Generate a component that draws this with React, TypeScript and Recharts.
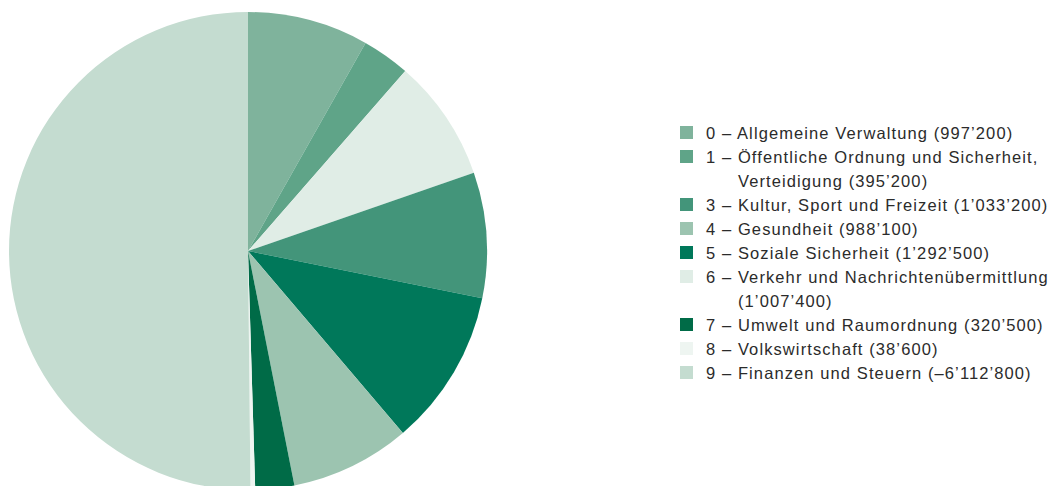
import { Cell, Legend, Pie, PieChart } from 'recharts';

// pie order (clockwise from 12 o'clock)
const sliceCodes = ['0', '1', '6', '3', '5', '4', '7', '8', '9'];
const sliceValues = [997200, 395200, 1007400, 1033200, 1292500, 988100, 320500, 38600, 6112800];

const colorByCode: Record<string, string> = {
  '0': '#7fb39c',
  '1': '#5fa488',
  '3': '#43957a',
  '4': '#9cc4b0',
  '5': '#00785a',
  '6': '#e0ede6',
  '7': '#006b47',
  '8': '#eef5f1',
  '9': '#c4dcd0',
};

// legend order and text (second line where the original wraps)
const legendCodes = ['0', '1', '3', '4', '5', '6', '7', '8', '9'];
const legendLabels = [
  ['0 – Allgemeine Verwaltung (997’200)'],
  ['1 – Öffentliche Ordnung und Sicherheit,', 'Verteidigung (395’200)'],
  ['3 – Kultur, Sport und Freizeit (1’033’200)'],
  ['4 – Gesundheit (988’100)'],
  ['5 – Soziale Sicherheit (1’292’500)'],
  ['6 – Verkehr und Nachrichtenübermittlung', '(1’007’400)'],
  ['7 – Umwelt und Raumordnung (320’500)'],
  ['8 – Volkswirtschaft (38’600)'],
  ['9 – Finanzen und Steuern (–6’112’800)'],
];

const data = sliceCodes.map((code, i) => ({ code, value: sliceValues[i] }));

function LegendContent() {
  return (
    <div
      style={{
        fontFamily: '"Liberation Sans", Arial, sans-serif',
        fontSize: 16.5,
        letterSpacing: 1.1,
        color: '#2b2b2b',
        lineHeight: '24px',
      }}
    >
      {legendCodes.map((code, i) => (
        <div key={code} style={{ display: 'flex', alignItems: 'flex-start' }}>
          <span
            style={{
              width: 13,
              height: 13,
              marginTop: 5,
              marginRight: 13,
              background: colorByCode[code],
              flex: 'none',
            }}
          />
          <div>
            {legendLabels[i].map((line, j) => (
              <div key={j} style={{ paddingLeft: j > 0 ? 32 : 0, whiteSpace: 'nowrap' }}>
                {line}
              </div>
            ))}
          </div>
        </div>
      ))}
    </div>
  );
}

export default function App() {
  return (
    <PieChart width={1054} height={478} margin={{ top: 0, right: 0, bottom: 0, left: 0 }}>
      <Pie
        data={data}
        dataKey="value"
        nameKey="code"
        cx={240}
        cy={243}
        outerRadius={239}
        startAngle={90}
        endAngle={-270}
        stroke="none"
        isAnimationActive={false}
      >
        {data.map((d) => (
          <Cell key={d.code} fill={colorByCode[d.code]} />
        ))}
      </Pie>
      <Legend
        content={<LegendContent />}
        layout="vertical"
        wrapperStyle={{ position: 'absolute', left: 672, top: 113, width: 382 }}
      />
    </PieChart>
  );
}
